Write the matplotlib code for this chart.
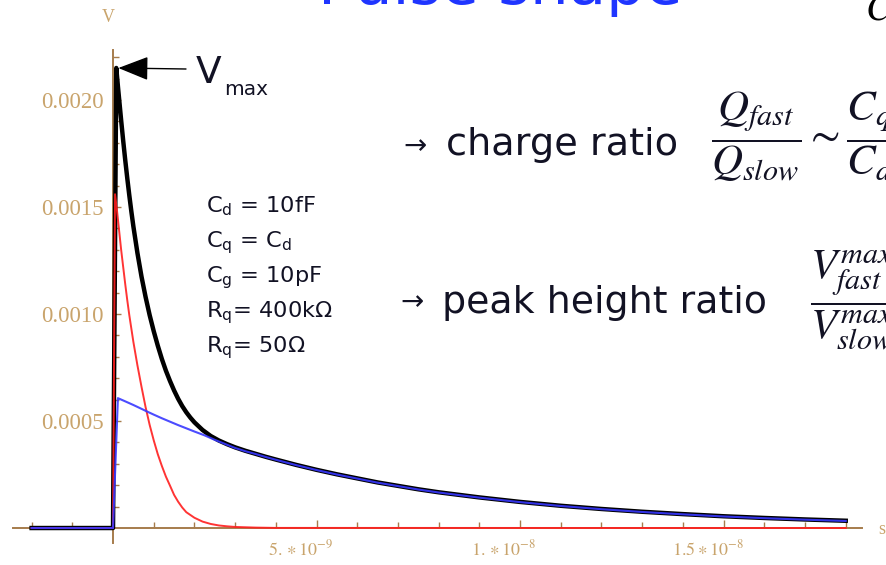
import numpy as np
import matplotlib
matplotlib.use("Agg")
import matplotlib.pyplot as plt
import matplotlib.transforms as mtransforms

plt.rcParams['mathtext.fontset'] = 'stix'

# ---- data (time in ns, voltage in units of 1e-6 V) ----
t_black = [-2.0, 0.0, 0.08, 0.12, 0.16, 0.20, 0.25, 0.30, 0.35, 0.40, 0.45, 0.50, 0.60, 0.70,
           0.80, 0.90, 1.00, 1.10, 1.20, 1.30, 1.40, 1.50, 1.60, 1.70, 1.80, 1.90, 2.00, 2.20,
           2.40, 2.60, 2.80, 3.00, 3.25, 3.50, 3.75, 4.00, 4.50, 5.00, 5.50, 6.00, 6.50, 7.00,
           7.50, 8.00, 9.00, 10.0, 11.0, 12.0, 13.0, 14.0, 15.0, 16.0, 17.0, 18.0]
v_black = [0, 0, 2150, 2065, 1985, 1905, 1810, 1720, 1635, 1555, 1480, 1410, 1285, 1175,
           1080, 995, 920, 852, 790, 735, 687, 643, 604, 570, 541, 516, 494, 458,
           430, 409, 392, 377, 361, 347, 333, 320, 295, 272, 251, 232, 213, 197,
           181, 167, 143, 122, 104, 89, 76, 65, 55, 47, 40, 34]

t_red = [-2.0, 0.0, 0.05, 0.10, 0.15, 0.20, 0.25, 0.30, 0.35, 0.40, 0.50, 0.60, 0.70, 0.80,
         0.90, 1.00, 1.10, 1.20, 1.30, 1.40, 1.50, 1.60, 1.70, 1.80, 2.00, 2.20, 2.40, 2.60,
         2.80, 3.00, 3.50, 4.00, 18.0]
v_red = [0, 0, 1560, 1480, 1390, 1300, 1220, 1140, 1065, 995, 870, 760, 660, 565,
         482, 410, 345, 290, 240, 198, 155, 123, 96, 74, 48, 30, 19, 12,
         8, 5, 2, 0.5, 0]

t_blue = [-2.0, 0.0, 0.12, 0.30, 0.50, 0.70, 0.83, 1.00, 1.20, 1.40, 1.60, 1.80, 2.00, 2.25,
          2.50, 2.75, 3.00, 3.25, 3.50, 3.75, 4.00, 4.50, 5.00, 5.50, 6.00, 6.50, 7.00, 7.50,
          8.00, 9.00, 10.0, 11.0, 12.0, 13.0, 14.0, 15.0, 16.0, 17.0, 18.0]
v_blue = [0, 0, 607, 592, 575, 557, 545, 530, 513, 497, 481, 466, 451, 433,
          412, 393, 374, 359, 346, 332, 319, 294, 271, 250, 231, 212, 196, 180,
          166, 142, 121, 103, 88, 75, 64, 54, 46, 39, 33]

y_major = [0.0005, 0.0010, 0.0015, 0.0020]
y_major_labels = ["0.0005", "0.0010", "0.0015", "0.0020"]
x_major = [5e-9, 1e-8, 1.5e-8]
x_major_labels = [r"$5.\ast10^{-9}$", r"$1.\ast10^{-8}$", r"$1.5\ast10^{-8}$"]

params = [r"C$_\mathrm{d}$ = 10fF", r"C$_\mathrm{q}$ = C$_\mathrm{d}$", r"C$_\mathrm{g}$ = 10pF",
          r"R$_\mathrm{q}$= 400k$\Omega$", r"R$_\mathrm{q}$= 50$\Omega$"]

W, H = 886, 565
fig = plt.figure(figsize=(W / 100, H / 100), dpi=100)
fig.patch.set_facecolor("white")


def fx(x):
    return x / W


def fy(y):
    return 1 - y / H


ax = fig.add_axes([fx(13), 22 / H, (862 - 13) / W, (543 - 50) / H])
ax.set_facecolor("none")
ax.set_xlim(-2.457e-9, 1.84e-8)
ax.set_ylim(-0.00007, 0.002234)

axis_col = "#a67c4c"
lab_col = "#c9a46c"

for s in ("top", "right"):
    ax.spines[s].set_visible(False)
ax.spines["left"].set_position(("data", 0))
ax.spines["bottom"].set_position(("data", 0))
for s in ("left", "bottom"):
    ax.spines[s].set_color(axis_col)
    ax.spines[s].set_linewidth(1.4)

ns, uv = 1e-9, 1e-6
ax.plot(np.array(t_black) * ns, np.array(v_black) * uv, color="black", lw=3.2, zorder=3,
        solid_joinstyle="round")
ax.plot(np.array(t_red) * ns, np.array(v_red) * uv, color="#ff1e1e", lw=1.4, alpha=0.9,
        zorder=4)
ax.plot(np.array(t_blue) * ns, np.array(v_blue) * uv, color="#3838ff", lw=1.5, alpha=0.9,
        zorder=5)

ax.set_yticks(y_major)
ax.set_yticklabels(y_major_labels, family="Liberation Serif")
ax.set_yticks([k * 1e-4 for k in range(1, 23) if k % 5 != 0], minor=True)
ax.set_xticks(x_major)
ax.set_xticklabels(x_major_labels)
ax.set_xticks([k * 1e-9 for k in range(-2, 19) if k % 5 != 0], minor=True)

ax.tick_params(which="both", direction="in", color=axis_col, labelcolor=lab_col, width=1)
ax.tick_params(which="major", length=6)
ax.tick_params(which="minor", length=4)
ax.tick_params(axis="y", labelsize=16.5, pad=7)
ax.tick_params(axis="x", labelsize=13, pad=8)
shift = mtransforms.ScaledTranslation(-16 / 100, 0, fig.dpi_scale_trans)
for lbl in ax.get_xticklabels():
    lbl.set_transform(lbl.get_transform() + shift)

# axis labels
fig.text(fx(108), fy(18), "V", family="Liberation Serif", color=lab_col, fontsize=13,
         ha="center", va="center")
fig.text(fx(878), fy(530), "s", family="Liberation Serif", color=lab_col, fontsize=13,
         ha="left", va="center")

# clipped title and formula fragment at top
fig.text(fx(318), fy(4), "Pulse shape", color="#1f35ff", fontsize=44, ha="left",
         va="baseline")
fig.text(fx(865), fy(19), r"$C$", color="black", fontsize=27, ha="left", va="baseline")

# V_max annotation
txt_col = "#121224"
fig.text(fx(196), fy(83), "V", color=txt_col, fontsize=27, ha="left", va="baseline")
fig.text(fx(224), fy(95), "max", color=txt_col, fontsize=14.5, ha="left", va="baseline")
ipk = int(np.argmax(v_black))
ax.annotate("", xy=(t_black[ipk] * ns, v_black[ipk] * uv), xycoords="data",
            xytext=(fx(186), fy(69)), textcoords="figure fraction",
            arrowprops=dict(arrowstyle="-|>,head_length=1.9,head_width=0.75",
                            color="black", lw=1.0, shrinkA=0, shrinkB=1.5,
                            mutation_scale=10))

# parameter block
for i, p in enumerate(params):
    fig.text(fx(206), fy(212 + 35 * i), p, color=txt_col, fontsize=16.2, ha="left",
             va="baseline", math_fontfamily="dejavusans")

# ratio lines
fig.text(fx(403), fy(146), "\u2192", color=txt_col, fontsize=20, ha="left", va="center")
fig.text(fx(446), fy(155), "charge ratio", color=txt_col, fontsize=27.5, ha="left",
         va="baseline")
fig.text(fx(400), fy(302), "\u2192", color=txt_col, fontsize=20, ha="left", va="center")
fig.text(fx(442), fy(313), "peak height ratio", color=txt_col, fontsize=27.3, ha="left",
         va="baseline")

fig.text(fx(711), fy(137), r"$\dfrac{Q_{fast}}{Q_{slow}}\sim\dfrac{C_q}{C_d}$", color=txt_col,
         fontsize=31, ha="left", va="center")
fig.text(fx(810), fy(300), r"$\dfrac{V^{max}_{fast}}{V^{max}_{slow}}$", color=txt_col,
         fontsize=31, ha="left", va="center")

fig.savefig("out.png", dpi=100)
